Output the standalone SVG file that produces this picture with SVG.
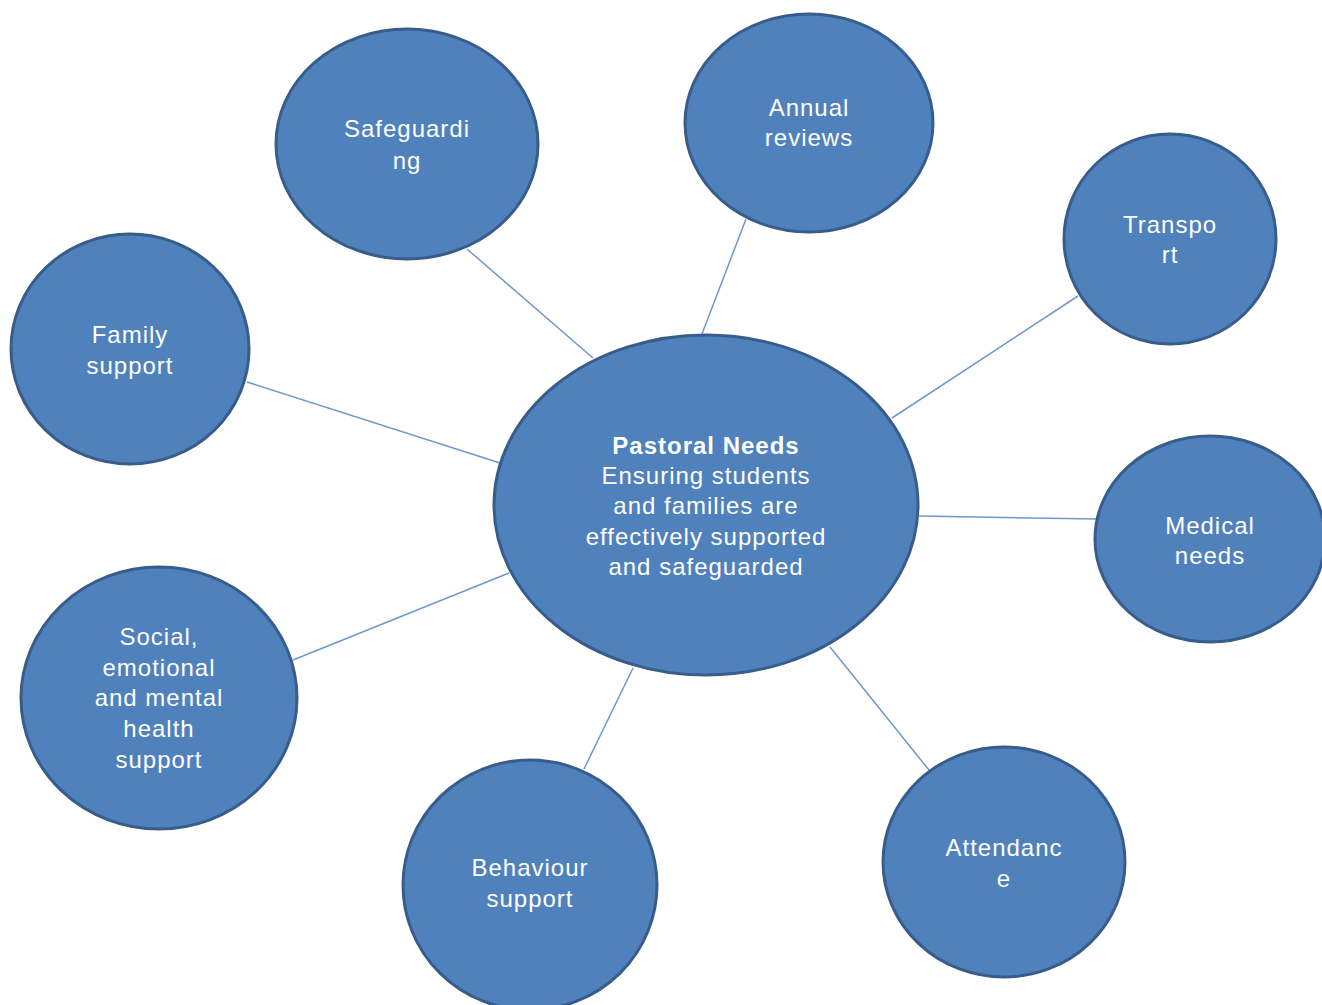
<svg xmlns="http://www.w3.org/2000/svg" width="1322" height="1005" viewBox="0 0 1322 1005">
<style>
.n{fill:#4f81bd;stroke:#385d8a;stroke-width:3}
.c line{stroke:#6e97cc;stroke-width:1.5}
text{font-family:"Liberation Sans",Arial,sans-serif;font-size:24px;fill:#fff;text-anchor:middle;letter-spacing:1px}
.b{font-weight:bold}
</style>
<rect width="1322" height="1005" fill="#fff"/>
<g class="c" id="connectors">
<line x1="467" y1="249" x2="593" y2="358"/>
<line x1="746" y1="219" x2="702" y2="334"/>
<line x1="1078" y1="296" x2="892" y2="418"/>
<line x1="247" y1="382" x2="500" y2="463"/>
<line x1="919" y1="516" x2="1096" y2="519"/>
<line x1="293" y1="660" x2="509" y2="573"/>
<line x1="584" y1="769" x2="633" y2="668"/>
<line x1="830" y1="647" x2="929" y2="770"/>
</g>
<g id="center"><ellipse class="n" cx="706" cy="505" rx="212" ry="170"/>
<text x="706" y="454"><tspan class="b">Pastoral Needs</tspan><tspan x="706" y="484">Ensuring students</tspan><tspan x="706" y="514">and families are</tspan><tspan x="706" y="545">effectively supported</tspan><tspan x="706" y="575">and safeguarded</tspan></text></g>
<g id="safeguarding"><ellipse class="n" cx="407" cy="144" rx="131" ry="115"/>
<text x="407" y="137">Safeguardi<tspan x="407" y="169">ng</tspan></text></g>
<g id="annual"><ellipse class="n" cx="809" cy="123" rx="124" ry="109"/>
<text x="809" y="116">Annual<tspan x="809" y="146">reviews</tspan></text></g>
<g id="transport"><ellipse class="n" cx="1170" cy="239" rx="106" ry="105"/>
<text x="1170" y="233">Transpo<tspan x="1170" y="263">rt</tspan></text></g>
<g id="family"><ellipse class="n" cx="130" cy="349" rx="119" ry="115"/>
<text x="130" y="343">Family<tspan x="130" y="374">support</tspan></text></g>
<g id="medical"><ellipse class="n" cx="1210" cy="539" rx="115" ry="103"/>
<text x="1210" y="534">Medical<tspan x="1210" y="564">needs</tspan></text></g>
<g id="social"><ellipse class="n" cx="159" cy="698" rx="138" ry="131"/>
<text x="159" y="645">Social,<tspan x="159" y="676">emotional</tspan><tspan x="159" y="706">and mental</tspan><tspan x="159" y="737">health</tspan><tspan x="159" y="768">support</tspan></text></g>
<g id="behaviour"><ellipse class="n" cx="530" cy="885" rx="127" ry="125"/>
<text x="530" y="876">Behaviour<tspan x="530" y="907">support</tspan></text></g>
<g id="attendance"><ellipse class="n" cx="1004" cy="862" rx="121" ry="115"/>
<text x="1004" y="856">Attendanc<tspan x="1004" y="887">e</tspan></text></g>
</svg>
